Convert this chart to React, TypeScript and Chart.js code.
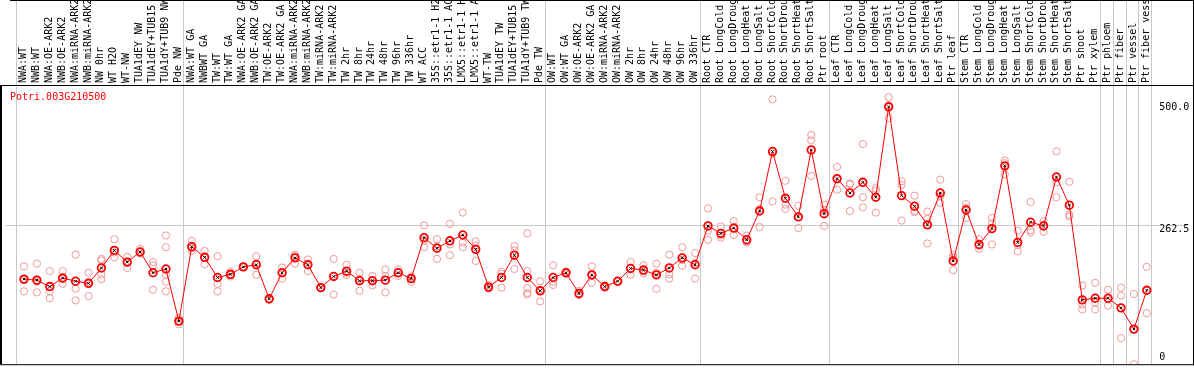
import React, { useEffect, useRef } from "react";
import { Chart, registerables } from "chart.js";

Chart.register(...registerables);

const geneId = "Potri.003G210500";

const categories = [
  "NWA:WT", "NWB:WT", "NWA:OE-ARK2", "NWB:OE-ARK2", "NWA:miRNA-ARK2", "NWB:miRNA-ARK2",
  "NW 0hr", "WT H2O", "WT-NW", "TUA1dEY NW", "TUA1dEY+TUB15", "TUA1dY+TUB9 NW", "Pde NW",
  "NWA:WT GA", "NWBWT GA", "TW:WT", "TW:WT GA", "NWA:OE-ARK2 GA", "NWB:OE-ARK2 GA",
  "TW:OE-ARK2", "TW:OE-ARK2 GA", "NWA:miRNA-ARK2", "NWB:miRNA-ARK2", "TW:miRNA-ARK2",
  "TW:miRNA-ARK2", "TW 2hr", "TW 8hr", "TW 24hr", "TW 48hr", "TW 96hr", "TW 336hr",
  "WT ACC", "35S::etr1-1 H2O", "35S::etr1-1 ACC", "LMX5::etr1-1 H2O", "LMX5::etr1-1 ACC",
  "WT-TW", "TUA1dEY TW", "TUA1dEY+TUB15", "TUA1dY+TUB9 TW", "Pde TW",
  "OW:WT", "OW:WT GA", "OW:OE-ARK2", "OW:OE-ARK2 GA", "OW:miRNA-ARK2", "OW:miRNA-ARK2",
  "OW 2hr", "OW 8hr", "OW 24hr", "OW 48hr", "OW 96hr", "OW 336hr",
  "Root CTR", "Root LongCold", "Root LongDrought", "Root LongHeat", "Root LongSalt",
  "Root ShortCold", "Root ShortDrought", "Root ShortHeat", "Root ShortSalt", "Ptr root",
  "Leaf CTR", "Leaf LongCold", "Leaf LongDrought", "Leaf LongHeat", "Leaf LongSalt",
  "Leaf ShortCold", "Leaf ShortDrought", "Leaf ShortHeat", "Leaf ShortSalt", "Ptr leaf",
  "Stem CTR", "Stem LongCold", "Stem LongDrought", "Stem LongHeat", "Stem LongSalt",
  "Stem ShortCold", "Stem ShortDrought", "Stem ShortHeat", "Stem ShortSalt", "Ptr shoot",
  "Ptr xylem", "Ptr phloem", "Ptr fiber", "Ptr vessel", "Ptr fiber vessel",
];

const means = [
  160, 158, 146, 162, 156, 152, 181, 214, 192, 211, 172, 179, 81,
  221, 201, 163, 169, 183, 187, 123, 172, 200, 187, 144, 165, 175, 157, 157, 158, 172, 161,
  238, 218, 232, 243, 216, 145, 163, 205, 163, 138,
  163, 172, 133, 168, 146, 156, 180, 177, 168, 181, 200, 187,
  260, 246, 256, 234, 288, 400, 312, 277, 403, 283,
  349, 322, 342, 314, 484, 317, 297, 262, 322, 194,
  290, 225, 255, 373, 229, 267, 260, 352, 299, 121,
  124, 124, 106, 66, 139,
];

const replicates = [
  [184, 137, 158], [189, 135, 155], [175, 137, 124], [175, 151, 160], [206, 142, 120],
  [172, 155, 128], [198, 195, 169, 160], [235, 201, 210], [202, 181, 192], [217, 208, 211],
  [192, 186, 140], [242, 220, 168, 155, 137], [87, 75, 80],
  [232, 213, 218], [213, 188, 201], [203, 151, 137], [174, 165, 168], [184, 182, 183],
  [203, 168, 190], [124, 121, 123], [182, 161, 172], [206, 189, 203], [197, 175, 189],
  [145, 143, 144], [198, 131, 166], [187, 168, 172], [172, 138, 160], [166, 148, 157],
  [178, 166, 135], [178, 166, 172], [155, 163, 165],
  [261, 220, 233], [235, 198, 221], [264, 225, 205], [285, 229, 220], [231, 223, 194],
  [149, 142, 145], [174, 144, 170], [222, 214, 179], [246, 175, 143, 134, 131], [156, 118, 140],
  [186, 149, 155], [174, 170, 172], [138, 130, 131], [184, 153, 167], [148, 144, 146],
  [157, 155, 156], [192, 168, 180], [186, 171, 175], [189, 142, 172], [206, 169, 161],
  [220, 185, 196], [209, 161, 190],
  [293, 251, 234], [259, 242, 238], [269, 243, 256], [242, 231, 229], [314, 258, 292],
  [498, 306, 396], [345, 300, 292], [298, 256, 277], [431, 421, 354], [300, 260, 290],
  [371, 328, 348], [338, 288, 340], [414, 314, 295], [331, 285, 326], [502, 463, 487],
  [344, 270, 337], [317, 288, 286], [287, 227, 273], [347, 303, 316], [205, 177, 200],
  [301, 275, 294], [235, 217, 223], [275, 225, 265], [383, 357, 378], [251, 212, 224],
  [305, 248, 252], [269, 249, 262], [400, 314, 342], [343, 278, 281], [148, 103, 112],
  [153, 103, 116], [140, 110, 122], [144, 129, 49], [132, 0, 66], [183, 96, 139],
];

// index of the last category before each vertical separator (-1 = before the first)
const groupEnds = [-1, 12, 40, 52, 62, 72, 83, 84, 85, 86, 87];

const yTickValues = [0, 262.5, 500];
const yTickLabels = ["0", "262.5", "500.0"];
const yGridValues = [262.5];

const FONT = "10px 'DejaVu Sans Mono', monospace";

const framePlugin = {
  id: "frame",
  beforeDraw(chart: any) {
    const { ctx, width, height } = chart;
    ctx.save();
    ctx.fillStyle = "#ffffff";
    ctx.fillRect(0, 0, width, height);
    ctx.restore();
  },
  beforeDatasetsDraw(chart: any) {
    const { ctx, chartArea, scales } = chart;
    const xs = scales.x;
    const ys = scales.y;
    ctx.save();
    ctx.fillStyle = "#c8c8c8";
    groupEnds.forEach((g) => {
      const px = Math.round(xs.getPixelForValue(g + 0.35));
      ctx.fillRect(px, 0, 1, chartArea.bottom);
    });
    yGridValues.forEach((v) => {
      const py = Math.round(ys.getPixelForValue(v));
      ctx.fillRect(chartArea.left, py, chartArea.right - chartArea.left, 1);
    });
    ctx.restore();
  },
  afterDraw(chart: any) {
    const { ctx, chartArea, scales, width } = chart;
    const xs = scales.x;
    const ys = scales.y;
    ctx.save();
    // frame
    ctx.fillStyle = "#000000";
    ctx.fillRect(10, 0, width - 10, 1);
    ctx.fillRect(0, chartArea.top, width, 1);
    ctx.fillRect(0, chartArea.bottom, width, 1);
    ctx.fillRect(0, chartArea.top, 2, chartArea.bottom - chartArea.top);
    ctx.fillRect(width - 1, 0, 1, chartArea.bottom + 1);

    // category labels (rotated, reading upward)
    ctx.font = FONT;
    ctx.fillStyle = "#000000";
    ctx.textAlign = "left";
    ctx.textBaseline = "alphabetic";
    categories.forEach((c, i) => {
      const px = xs.getPixelForValue(i);
      ctx.save();
      ctx.translate(px + 2, chartArea.top - 2);
      ctx.rotate(-Math.PI / 2);
      ctx.fillText(c, 0, 0);
      ctx.restore();
    });

    // y tick labels inside the plot on the right
    ctx.textBaseline = "middle";
    yTickValues.forEach((v, i) => {
      let py = ys.getPixelForValue(v) + 5;
      py = Math.max(chartArea.top + 22, Math.min(chartArea.bottom - 7, py));
      ctx.fillText(yTickLabels[i], chartArea.right - 29, py);
    });

    // gene id
    ctx.fillStyle = "#ff0000";
    ctx.fillText(geneId, 10, chartArea.top + 12);
    ctx.restore();
  },
};

export default function App() {
  const ref = useRef<HTMLCanvasElement | null>(null);

  useEffect(() => {
    document.body.style.margin = "0";
    const canvas = ref.current;
    if (!canvas) return;

    const meanPoints = means.map((m, i) => ({ x: i, y: m }));
    const repPoints: { x: number; y: number }[] = [];
    replicates.forEach((arr, i) => arr.forEach((v) => repPoints.push({ x: i, y: v })));

    const chart = new Chart(canvas, {
      type: "line",
      data: {
        datasets: [
          {
            data: meanPoints,
            borderColor: "#ff0000",
            borderWidth: 1,
            pointStyle: "crossRot",
            pointRadius: 1.8,
            pointBorderColor: "#000000",
            pointBorderWidth: 1,
            showLine: false,
            order: 0,
          },
          {
            data: meanPoints,
            borderColor: "#ff0000",
            borderWidth: 1,
            pointStyle: "circle",
            pointRadius: 3.8,
            pointBorderColor: "#ff0000",
            pointBackgroundColor: "rgba(0,0,0,0)",
            pointBorderWidth: 1.8,
            tension: 0,
            order: 1,
          },
          {
            data: repPoints,
            showLine: false,
            pointStyle: "circle",
            pointRadius: 3.6,
            pointBorderColor: "#f09a9a",
            pointBackgroundColor: "rgba(0,0,0,0)",
            pointBorderWidth: 1,
            order: 2,
          },
        ],
      },
      options: {
        animation: false,
        responsive: false,
        devicePixelRatio: 1,
        events: [],
        layout: { padding: { top: 85, left: 1, right: 2, bottom: 1 } },
        plugins: { legend: { display: false }, tooltip: { enabled: false } },
        scales: {
          x: { type: "linear", display: false, min: -1.408, max: 90.208 },
          y: { type: "linear", display: false, min: 0, max: 525 },
        },
      },
      plugins: [framePlugin],
    });
    return () => chart.destroy();
  }, []);

  return (
    <div style={{ width: 1194, height: 370 }}>
      <canvas ref={ref} width={1194} height={370} style={{ display: "block" }} />
    </div>
  );
}
